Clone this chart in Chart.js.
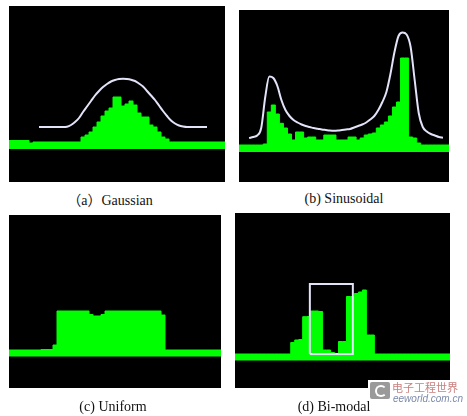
<!DOCTYPE html>
<html lang="zh">
<head>
<meta charset="UTF-8">
<title>Histogram shapes</title>
<script src="https://cdn.jsdelivr.net/npm/chart.js"></script>
<style>
    html, body { margin: 0; padding: 0; background: #fff; }
    body {
        width: 467px;
        height: 416px;
        position: relative;
        overflow: hidden;
        font-family: "Liberation Serif", "Noto Sans CJK SC", serif;
    }
    .panel { position: absolute; background: #000; }
    .caption {
        position: absolute;
        z-index: 2;
        font-size: 14px;
        color: #111;
        white-space: nowrap;
        transform: translate(-50%, -50%);
    }
    .mark { position: absolute; z-index: 1; left: 368px; top: 380px; width: 99px; height: 36px; background: #fff; }
    .logo { position: absolute; left: 2px; top: 2px; width: 20px; height: 17px; background: #9a9a9a; border-radius: 2px; }
    .logo::after {
        content: ''; position: absolute; left: 5px; top: 3px; width: 8px; height: 8px;
        border: 2px solid #fff; border-right-color: transparent; border-radius: 50%;
    }
    .mark-cn { position: absolute; left: 24px; top: -1px; font-family: "Noto Sans CJK SC", sans-serif; font-size: 11px; color: #c98080; white-space: nowrap; }
    .mark-en { position: absolute; left: 25px; top: 13px; font-family: "Liberation Sans", sans-serif; font-style: italic; font-size: 10px; color: #7b89aa; white-space: nowrap; }
</style>
</head>
<body>

<div class="panel" style="left:9px; top:6px; width:216px; height:176px;"><canvas id="gauss"></canvas></div>
<div class="panel" style="left:239px; top:10px; width:210px; height:172px;"><canvas id="sinus"></canvas></div>
<div class="panel" style="left:9px; top:215px; width:212px; height:173px;"><canvas id="uniform"></canvas></div>
<div class="panel" style="left:235px; top:213px; width:215px; height:175px;"><canvas id="bimodal"></canvas></div>

<div class="caption" style="left:110px; top:199px;">（a）Gaussian</div>
<div class="caption" style="left:344px; top:199px;">(b) Sinusoidal</div>
<div class="caption" style="left:113px; top:407px;">(c) Uniform</div>
<div class="caption" style="left:334px; top:407px;">(d) Bi-modal</div>

<div class="mark">
    <div class="logo"></div>
    <div class="mark-cn">电子工程世界</div>
    <div class="mark-en">eeworld.com.cn</div>
</div>

<script>
    // histogram counts per bin (baseline band included)
    const gaussHist = [8.5, 8.5, 8.5, 8.5, 8.5, 6, 7, 7, 7, 7, 7, 7, 7, 7, 7, 7, 7, 7,
        12, 14, 17, 22, 27, 33, 38, 41, 52, 52, 43, 45, 48, 44, 36, 32, 32, 24, 22, 17, 12, 10,
        7, 7, 7, 7, 7, 7, 7, 7, 7, 7, 7, 7, 7, 7];
    const gaussCurve = [null, null, null, null, null, null, null,
        22, 22, 22, 22, 22, 22, 22, 22.3, 24, 27, 31, 37, 42.5, 48, 53.5, 58, 62, 65, 67.5,
        69, 70, 70.3, 70, 69.3, 68, 65.5, 62.5, 58, 53.5, 49, 43.5, 38, 33, 28.5, 25.5, 23.5,
        22.5, 22, 22, 22, 22, 22, 22, null, null, null, null];

    const sinHist = [7, 7, 7, 7, 7, 7, 8, 40, 47, 38, 28.7, 24, 18, 12, 20, 20, 14, 15, 15, 12,
        12, 17, 17, 17, 12, 12, 12, 15, 15, 12, 14, 17, 18, 19, 24, 27, 30, 36, 45, 50, 94, 94,
        15, 14, 9, 7, 7, 7, 7, 7, 7, 7];
    const sinCurve = [null, null, 14, 15, 16.5, 24, 55, 75.5, 74, 66, 52, 42, 36, 32, 29.5,
        27.5, 26, 25, 24, 23.3, 22.5, 22, 21.5, 21.3, 21.5, 22, 22.5, 23, 24.5, 26, 27.5, 29.5,
        32.5, 36, 42, 50, 60, 78, 100, 116, 119.5, 117.5, 105, 72, 39, 25, 20.5, 18, 16.5, 15,
        14.3, null];

    const uniHist = [6.5, 6.5, 6.5, 6.5, 6.5, 6.5, 6.5, 6.5, 7, 7, 7, 11.5,
        45.5, 45.5, 45.5, 45.5, 45.5, 45.5, 45.5, 45.5, 42, 40.5, 40.5, 42,
        45.5, 45.5, 45.5, 45.5, 45.5, 45.5, 45.5, 45.5, 45.5, 45.5, 45.5, 45.5, 45.5, 45.5, 41.5,
        6.5, 6.5, 6.5, 6.5, 6.5, 6.5, 6.5, 6.5, 6.5, 6.5, 6.5, 6.5, 6.5, 6.5];

    const biHist = [6.5, 6.5, 6.5, 6.5, 6.5, 6.5, 6.5, 6.5, 6.5, 6.5, 6.5, 6.5, 6.5, 6.5,
        18, 20.5, 21, 43.8, 44, 49.5, 49.5, 49, 10.5, 10.5, 8, 6.5, 19, 19, 64, 64, 67, 68.5, 70.5,
        25.5, 25.5, 6.5, 6.5, 6.5, 6.5, 6.5, 6.5, 6.5, 6.5, 6.5, 6.5, 6.5, 6.5, 6.5, 6.5, 6.5,
        6.5, 6.5, 6.5, 6.5];
    // window drawn over the bi-modal histogram (bin units / counts)
    const biWindowX = [18.8, 29.6];
    const biWindowY = [6.5, 76.5];

    const GREEN = '#00ff00';
    const CURVE = '#e2e2f8';

    // bin i covers [i, i+1]; last point closes the final bin
    function stepPoints(hist) {
        const pts = hist.map((v, i) => ({ x: i, y: v }));
        pts.push({ x: hist.length, y: hist[hist.length - 1] });
        return pts;
    }

    function curvePoints(curve) {
        return curve.map((v, i) => v === null ? null : { x: i + 0.5, y: v }).filter(p => p);
    }

    function overlay(data, tension) {
        return {
            data: data,
            borderColor: CURVE,
            borderWidth: 2,
            pointRadius: 0,
            fill: false,
            tension: tension,
            cubicInterpolationMode: tension ? 'monotone' : 'default',
            order: 1
        };
    }

    function makeChart(id, hist, extra, yMin, yMax) {
        return new Chart(document.getElementById(id), {
            type: 'line',
            data: {
                datasets: [{
                    data: stepPoints(hist),
                    stepped: true,
                    fill: 'origin',
                    backgroundColor: GREEN,
                    borderColor: GREEN,
                    borderWidth: 1,
                    pointRadius: 0,
                    order: 2
                }].concat(extra)
            },
            options: {
                responsive: true,
                maintainAspectRatio: false,
                animation: false,
                layout: { padding: 0 },
                plugins: {
                    legend: { display: false },
                    tooltip: { enabled: false }
                },
                scales: {
                    x: { type: 'linear', display: false, min: 0, max: hist.length },
                    y: { display: false, min: yMin, max: yMax }
                }
            }
        });
    }

    makeChart('gauss', gaussHist, [overlay(curvePoints(gaussCurve), 0.4)], -33, 143);
    makeChart('sinus', sinHist, [overlay(curvePoints(sinCurve), 0.4)], -30, 142);
    makeChart('uniform', uniHist, [], -31.5, 141.5);

    const windowBox = [
        { x: biWindowX[0], y: biWindowY[0] },
        { x: biWindowX[0], y: biWindowY[1] },
        { x: biWindowX[1], y: biWindowY[1] },
        { x: biWindowX[1], y: biWindowY[0] },
        { x: biWindowX[0], y: biWindowY[0] }
    ];
    makeChart('bimodal', biHist, [overlay(windowBox, 0)], -27.5, 147.5);
</script>
</body>
</html>
